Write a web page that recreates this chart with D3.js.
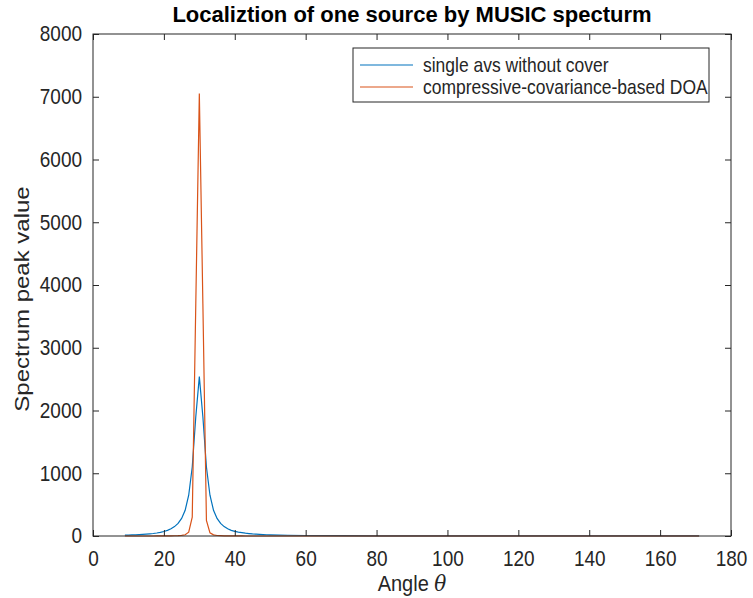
<!DOCTYPE html>
<html lang="en">
<meta charset="utf-8">
<title>Localiztion of one source by MUSIC specturm</title>
<style>
  body { margin: 0; background: #fff; }
  text { font-family: "Liberation Sans", Arial, sans-serif; fill: #262626; }
</style>
<body>
<script src="https://d3js.org/d3.v7.min.js"></script>
<script>
  // angle grid (degrees), denser around the peak
  var angles = [9, 10, 11, 12, 13, 14, 15, 16, 17, 18, 19, 20, 21, 22, 23, 24, 25, 26, 27, 28, 29,
    30, 31, 32, 33, 34, 35, 36, 37, 38, 39, 40, 41, 42, 43, 44, 45, 46, 47, 48, 49, 50,
    55, 60, 70, 80, 90, 100, 110, 120, 130, 140, 150, 160, 170, 171];

  // single avs without cover
  var singleAvs = [14, 15, 17, 19, 22, 25, 29, 34, 40, 48, 58, 72, 90, 115, 150, 200, 280, 410, 650, 1100, 1900,
    2540, 1900, 1100, 650, 410, 280, 200, 150, 115, 90, 74, 62, 53, 45, 39, 33, 29, 26, 23, 20, 18,
    12, 8, 5, 3, 2, 2, 1, 1, 1, 1, 1, 1, 1, 1];

  // compressive-covariance-based DOA
  var compressive = [0, 0, 0, 0, 0, 0, 0, 0, 0, 1, 1, 1, 2, 3, 4, 6, 10, 20, 60, 300, 3700,
    7050, 3700, 250, 50, 18, 8, 5, 3, 2, 1, 1, 1, 1, 0, 0, 0, 0, 0, 0, 0, 0,
    0, 0, 0, 0, 0, 0, 0, 0, 0, 0, 0, 0, 0, 0];

  var xTicks = [0, 20, 40, 60, 80, 100, 120, 140, 160, 180];
  var yTicks = [0, 1000, 2000, 3000, 4000, 5000, 6000, 7000, 8000];

  var series = [
    { name: "single avs without cover", values: singleAvs, color: "#0072BD" },
    { name: "compressive-covariance-based DOA", values: compressive, color: "#D95319" }
  ];

  // the original picture is a little stretched vertically, so the text is too
  var stretch = 1.12;

  // set the dimensions and margins of the graph
  var margin = { top: 34, right: 22, bottom: 62, left: 93 },
    width = 753 - margin.left - margin.right,
    height = 598 - margin.top - margin.bottom;

  // set the ranges
  var x = d3.scaleLinear().domain([0, 180]).range([0, width]);
  var y = d3.scaleLinear().domain([0, 8000]).range([height, 0]);

  var svg = d3.select("body").append("svg")
    .attr("width", 753)
    .attr("height", 598)
    .append("g")
    .attr("transform", "translate(" + margin.left + "," + margin.top + ")");

  // the lines
  var line = d3.line()
    .x(function(d, i) { return x(angles[i]); })
    .y(function(d) { return y(d); });

  series.forEach(function(s) {
    svg.append("path")
      .datum(s.values)
      .attr("fill", "none")
      .attr("stroke", s.color)
      .attr("stroke-width", 1.2)
      .attr("d", line);
  });

  // axes, ticks pointing inwards like matlab
  var tickLen = 6;
  function styleAxis(g) {
    g.select(".domain").remove();
    g.selectAll(".tick line").attr("stroke", "#262626");
    g.selectAll(".tick text")
      .attr("font-size", 19)
      .attr("fill", "#262626")
      .attr("transform", "scale(1," + stretch + ")");
  }

  svg.append("g")
    .attr("transform", "translate(0," + height + ")")
    .call(d3.axisBottom(x).tickValues(xTicks).tickFormat(d3.format("d"))
      .tickSizeInner(-tickLen).tickSizeOuter(0).tickPadding(13))
    .call(styleAxis);
  svg.append("g")
    .call(d3.axisTop(x).tickValues(xTicks).tickSizeInner(-tickLen).tickSizeOuter(0).tickFormat(""))
    .call(styleAxis);
  svg.append("g")
    .call(d3.axisLeft(y).tickValues(yTicks).tickFormat(d3.format("d"))
      .tickSizeInner(-tickLen).tickSizeOuter(0).tickPadding(11))
    .call(styleAxis);
  svg.append("g")
    .attr("transform", "translate(" + width + ",0)")
    .call(d3.axisRight(y).tickValues(yTicks).tickSizeInner(-tickLen).tickSizeOuter(0).tickFormat(""))
    .call(styleAxis);

  // box
  svg.append("rect")
    .attr("width", width)
    .attr("height", height)
    .attr("fill", "none")
    .attr("stroke", "#262626")
    .attr("stroke-width", 1);

  // title and axis labels
  svg.append("text")
    .attr("x", width / 2)
    .attr("y", -12)
    .attr("text-anchor", "middle")
    .attr("font-size", 22)
    .attr("font-weight", "bold")
    .style("fill", "#000")
    .text("Localiztion of one source by MUSIC specturm");

  var xl = svg.append("g")
    .attr("transform", "translate(" + (width / 2) + "," + (height + 55) + ") scale(1," + stretch + ")")
    .append("text")
    .attr("text-anchor", "middle")
    .attr("font-size", 20);
  xl.append("tspan").text("Angle ");
  xl.append("tspan").attr("font-style", "italic").attr("font-family", "'DejaVu Serif', serif").text("\u03b8");

  svg.append("text")
    .attr("transform", "translate(" + (-64) + "," + (height / 2 + 14) + ") rotate(-90) scale(1.2,1)")
    .attr("text-anchor", "middle")
    .attr("font-size", 20)
    .text("Spectrum peak value");

  // legend
  var legend = svg.append("g")
    .attr("transform", "translate(" + (x(0) + 260) + ",14)");
  legend.append("rect")
    .attr("width", 356)
    .attr("height", 54)
    .attr("fill", "#fff")
    .attr("stroke", "#262626");
  series.forEach(function(s, i) {
    var row = legend.append("g").attr("transform", "translate(0," + (17 + i * 22) + ")");
    row.append("line")
      .attr("x1", 7).attr("x2", 60)
      .attr("stroke", s.color)
      .attr("stroke-width", 1.2);
    row.append("text")
      .attr("x", 70)
      .attr("dy", "0.35em")
      .attr("font-size", 17.5)
      .attr("transform", "scale(1," + stretch + ")")
      .text(s.name);
  });
</script>
</body>
